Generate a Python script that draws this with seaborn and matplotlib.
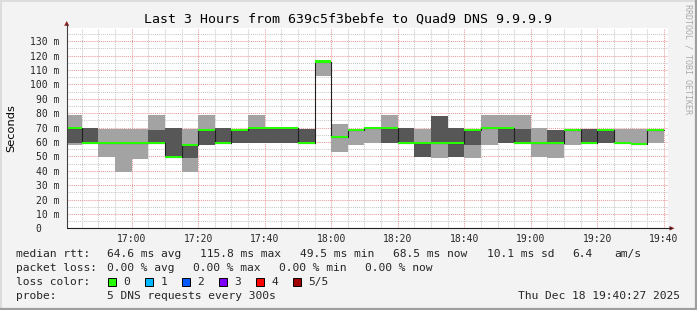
import numpy as np
import pandas as pd
import matplotlib
matplotlib.use("Agg")
import matplotlib.pyplot as plt
import matplotlib.dates as mdates
from matplotlib.patches import Rectangle, Polygon
from matplotlib.lines import Line2D
import seaborn as sns

# ---------------- data (ms) ----------------
bin_start = "2025-12-18 16:40"          # first 5-minute bin
ping_lo  = [57.8, 59.5, 49.7, 39.3, 48.1, 59.5, 49.5, 39.3, 57.8, 59.5, 59.5, 59.0,
            59.0, 59.0, 59.5, 105.8, 53.2, 57.8, 59.0, 59.0, 59.5, 49.7, 49.0, 49.7,
            49.0, 57.8, 59.0, 59.5, 49.7, 49.0, 57.8, 59.5, 59.0, 59.5, 58.5, 59.0]
ping_q1  = [59.5, 59.5, 59.5, 59.5, 59.5, 59.5, 49.5, 48.5, 57.8, 59.5, 59.5, 59.0,
            59.0, 59.0, 59.5, 115.8, 63.6, 68.5, 69.5, 59.0, 59.5, 49.7, 59.5, 49.7,
            57.8, 69.5, 59.0, 59.5, 59.0, 59.0, 68.5, 59.5, 59.0, 59.5, 58.5, 68.5]
ping_med = [69.5, 59.5, 59.5, 59.5, 59.5, 59.5, 49.5, 58.0, 68.5, 59.5, 68.5, 69.5,
            69.5, 69.5, 59.5, 115.8, 63.6, 68.5, 69.5, 69.5, 59.5, 59.5, 59.5, 59.5,
            68.5, 69.5, 69.5, 59.5, 59.0, 59.0, 68.5, 59.5, 68.5, 59.5, 58.5, 68.5]
ping_q3  = [69.5, 69.5, 59.5, 59.5, 59.5, 68.5, 69.5, 58.0, 68.5, 69.5, 68.5, 69.5,
            69.5, 69.5, 69.0, 115.8, 63.6, 68.5, 69.5, 69.5, 69.5, 59.5, 78.3, 69.5,
            68.5, 69.5, 69.5, 69.0, 59.0, 68.3, 68.5, 69.0, 68.5, 59.5, 58.5, 68.5]
ping_hi  = [78.7, 69.5, 69.0, 69.0, 69.0, 78.7, 69.5, 69.0, 78.7, 69.5, 68.5, 78.7,
            69.5, 69.5, 69.0, 115.8, 72.4, 69.0, 69.5, 78.7, 69.5, 69.0, 78.3, 69.5,
            68.5, 78.7, 78.7, 78.7, 69.5, 68.3, 68.5, 69.0, 68.5, 69.0, 69.0, 68.5]

y_ticks = [0, 10, 20, 30, 40, 50, 60, 70, 80, 90, 100, 110, 120, 130]
title = "Last 3 Hours from 639c5f3bebfe to Quad9 DNS 9.9.9.9"
rtt_stats = ["64.6 ms avg", "115.8 ms max", "49.5 ms min", "68.5 ms now", "10.1 ms sd", "6.4", "am/s"]
loss_stats = ["0.00 % avg", "0.00 % max", "0.00 % min", "0.00 % now"]
loss_labels = ["0", "1", "2", "3", "4", "5/5"]
loss_colors = ["#26ff00", "#00b8ff", "#0059ff", "#7e00ff", "#ff0000", "#a00000"]
probe_text = "5 DNS requests every 300s"
stamp = "Thu Dec 18 19:40:27 2025"

# ---------------- style ----------------
sns.set_theme(style="white")
plt.rcParams["font.family"] = ["DejaVu Sans Mono", "DejaVu Sans"]
BG = "#f3f3f3"
LIGHT = "#a3a3a3"
DARK = "#575757"
GRID = "#c8c8c8"
MGRID = "#ec9a9a"

W, H = 697, 310
fig = plt.figure(figsize=(W / 100, H / 100), dpi=100, facecolor=BG)
fx = lambda px: px / W
fy = lambda py: 1 - py / H

X0, X1, Y0, Y1 = 66.7, 667.5, 228.3, 28.0
ax = fig.add_axes([fx(X0), fy(Y0), fx(X1 - X0), (Y0 - Y1) / H])
ax.set_facecolor("white")

t0 = pd.Timestamp(bin_start)
edges = pd.date_range(t0, periods=len(ping_med) + 1, freq="5min")
xe = mdates.date2num(edges.to_pydatetime())
ext = lambda a: np.append(np.asarray(a, float), a[-1])

ax.fill_between(xe, ext(ping_lo), ext(ping_hi), step="post", color=LIGHT, lw=0, zorder=1)
ax.fill_between(xe, ext(ping_q1), ext(ping_q3), step="post", color=DARK, lw=0, zorder=2)
df = pd.DataFrame({"t": xe, "median": ext(ping_med)})
sns.lineplot(data=df, x="t", y="median", drawstyle="steps-post", color="#202020",
             lw=0.8, ax=ax, zorder=3, legend=False)
med = ext(ping_med)
ax.fill_between(xe, med - 0.75, med + 0.75, step="post", color=loss_colors[0], lw=0, zorder=4)

xmin = mdates.date2num(pd.Timestamp("2025-12-18 16:40:27").to_pydatetime())
xmax = mdates.date2num(pd.Timestamp("2025-12-18 19:41:07").to_pydatetime())
ax.set_xlim(xmin, xmax)
ax.set_ylim(0, 139.1)

major_t = pd.date_range("2025-12-18 17:00", "2025-12-18 19:40", freq="20min")
minor_t = pd.date_range("2025-12-18 16:45", "2025-12-18 19:40", freq="5min")
ax.set_xticks(mdates.date2num(major_t.to_pydatetime()))
ax.set_xticklabels([t.strftime("%H:%M") for t in major_t])
ax.set_xticks(mdates.date2num(minor_t.to_pydatetime()), minor=True)
ax.set_yticks(y_ticks)
ax.set_yticklabels([(f"{v} m" if v else "0   ") for v in y_ticks])
ax.set_yticks([v + 5 for v in y_ticks], minor=True)
ax.set_xlabel("")
ax.set_ylabel("")

dots = (0, (1, 1))
ax.grid(which="minor", color=GRID, linestyle=dots, lw=0.75)
ax.grid(which="major", color=MGRID, linestyle=dots, lw=0.75)
ax.set_axisbelow(True)
for s in ax.spines.values():
    s.set_visible(False)
ax.tick_params(which="major", axis="both", direction="out", length=2, width=0.7,
               color="#c04040", labelsize=7, pad=2.4)
ax.tick_params(which="minor", axis="both", length=0)
ax.tick_params(axis="y", pad=3.4)

# axes lines and arrows
fig.add_artist(Line2D([fx(X0), fx(X0)], [fy(Y0), fy(24)], color="#404040", lw=0.8))
fig.add_artist(Line2D([fx(X0), fx(671)], [fy(Y0), fy(Y0)], color="#202020", lw=0.8))
fig.add_artist(Polygon([[fx(64.2), fy(25.8)], [fx(69.2), fy(25.8)], [fx(66.7), fy(21.0)]],
                       closed=True, color="#8b1a1a", lw=0))
fig.add_artist(Polygon([[fx(669.5), fy(226.0)], [fx(669.5), fy(230.6)], [fx(674.5), fy(228.3)]],
                       closed=True, color="#8b1a1a", lw=0))

# texts
fig.text(fx(348.5), fy(19), title, ha="center", va="center", fontsize=9.5, color="black")
fig.text(fx(11.5), fy(128), "Seconds", rotation=90, ha="center", va="center",
         fontsize=8.2, family="DejaVu Sans", color="black")
fig.text(fx(688), fy(4), "RRDTOOL / TOBI OETIKER", rotation=-90, ha="center", va="top",
         fontsize=6, color="#aaaaaa")

FS = 8.1
fig.text(fx(16), fy(254), "median rtt:", fontsize=FS, va="center")
for x, s in zip([107.3, 200, 300, 393.3, 486.7, 572.7, 614], rtt_stats):
    fig.text(fx(x), fy(254), s, fontsize=FS, va="center")
fig.text(fx(16), fy(268), "packet loss:", fontsize=FS, va="center")
for x, s in zip([107.3, 193.3, 279.3, 365.0], loss_stats):
    fig.text(fx(x), fy(268), s, fontsize=FS, va="center")
fig.text(fx(16), fy(282), "loss color:", fontsize=FS, va="center")
for i, (lab, col) in enumerate(zip(loss_labels, loss_colors)):
    bx = 108.3 + i * 37.0
    fig.add_artist(Rectangle((fx(bx), fy(285.5)), fx(7.5), 8 / H, facecolor=col,
                             edgecolor="black", lw=0.7))
    fig.text(fx(bx + 15), fy(282), lab, fontsize=FS, va="center")
fig.text(fx(16), fy(296), "probe:", fontsize=FS, va="center")
fig.text(fx(107.3), fy(296), probe_text, fontsize=FS, va="center")
fig.text(fx(680), fy(296), stamp, fontsize=FS, va="center", ha="right")

# 3d frame
fig.add_artist(Line2D([0, 1], [fy(0.5), fy(0.5)], color="#dcdcdc", lw=1.4))
fig.add_artist(Line2D([fx(0.5), fx(0.5)], [0, 1], color="#dcdcdc", lw=1.4))
fig.add_artist(Line2D([0, 1], [fy(309), fy(309)], color="#9e9e9e", lw=1.6))
fig.add_artist(Line2D([fx(696), fx(696)], [0, 1], color="#9e9e9e", lw=1.6))

fig.savefig("out.png", dpi=100, facecolor=BG)
